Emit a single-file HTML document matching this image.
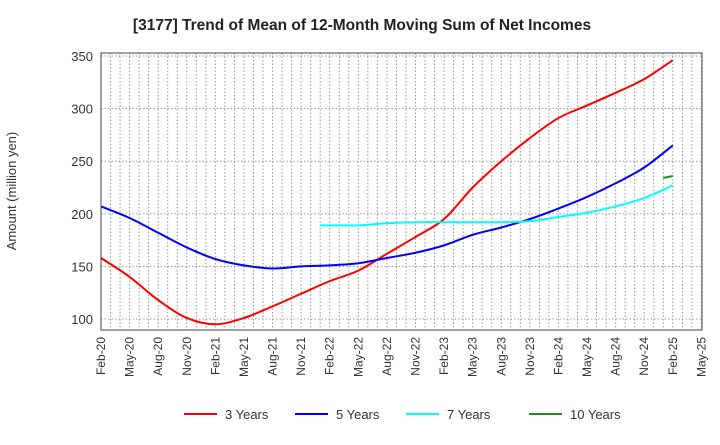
<!DOCTYPE html>
<html><head><meta charset="utf-8"><style>
body{margin:0;background:#fff;font-family:"Liberation Sans",Arial,sans-serif}
svg text{font-family:"Liberation Sans",Arial,sans-serif}
</style></head><body>
<svg id="c" width="720" height="440" viewBox="0 0 720 440">
<text x="362" y="30" text-anchor="middle" font-size="15.5" font-weight="bold" fill="#222">[3177]  Trend of Mean of 12-Month Moving Sum of Net Incomes</text>
<text transform="translate(16,191) rotate(-90)" text-anchor="middle" font-size="13" fill="#333">Amount (million yen)</text>
<g id="grid"></g><g id="series"></g><g id="axes"></g>
<g id="legend"></g>
</svg>
<script>
const xTickLabels=["Feb-20","May-20","Aug-20","Nov-20","Feb-21","May-21","Aug-21","Nov-21","Feb-22","May-22","Aug-22","Nov-22","Feb-23","May-23","Aug-23","Nov-23","Feb-24","May-24","Aug-24","Nov-24","Feb-25","May-25"];
const yTicks=[100,150,200,250,300,350];
const seriesNames=["3 Years","5 Years","7 Years","10 Years"];
const seriesColors=["#ff0000","#0000ff","#00ffff","#228b22"];
// values at quarterly months (month index from Feb-20)
const months3=[0,3,6,9,12,15,18,21,24,27,30,33,36,39,42,45,48,51,54,57,60];
const years3=[158,140,118,101,95,101,112,124,136,146,162,178,195,225,250,272,291,303,315,328,346];
const months5=[0,3,6,9,12,15,18,21,24,27,30,33,36,39,42,45,48,51,54,57,60];
const years5=[207,196,182,168,157,151,148,150,151,153,158,163,170,180,187,195,205,216,229,244,265];
const months7=[23,24,27,30,33,36,39,42,45,48,51,54,57,60];
const years7=[189,189,189,191,192,192,192,192,193,197,201,207,215,227];
const months10=[59,60];
const years10=[234,236];
const X0=101,X1=702,Y0=53,Y1=330,PX=9.53;
const xs=m=>X0+m*PX;
const ys=v=>319-(v-100)*263/250;
const NS="http://www.w3.org/2000/svg";
function mk(t,a,p){const e=document.createElementNS(NS,t);for(const k in a)e.setAttribute(k,a[k]);p.appendChild(e);return e;}
const grid=document.getElementById('grid'),axes=document.getElementById('axes'),ser=document.getElementById('series'),leg=document.getElementById('legend');
for(let m=0;xs(m)<X1;m++){const l=mk('line',{x1:xs(m),x2:xs(m),y1:Y0,y2:Y1,stroke:'#999','stroke-dasharray':'1.5,2','stroke-width':1},grid);

}
yTicks.forEach(v=>{const l=mk('line',{x1:X0,x2:X1,y1:ys(v),y2:ys(v),stroke:'#999','stroke-dasharray':'1.5,2'},grid);


const t=mk('text',{x:X0-8,y:ys(v)+5,'text-anchor':'end','font-size':13,fill:'#333'},axes);t.textContent=v;

});
xTickLabels.forEach((s,i)=>{const x=xs(i*3);const t=mk('text',{transform:`translate(${x+4},337) rotate(-90)`,'text-anchor':'end','font-size':12,fill:'#333'},axes);t.textContent=s;

});
const fr=mk('rect',{x:X0,y:Y0,width:X1-X0,height:Y1-Y0,fill:'none',stroke:'#444'},axes);


function path(ms,vs){const p=ms.map((m,i)=>[xs(m),ys(vs[i])]);let d=`M${p[0][0]},${p[0][1]}`;
for(let i=0;i<p.length-1;i++){const a=p[i-1]||p[i],b=p[i],c=p[i+1],e=p[i+2]||c;
d+=`C${b[0]+(c[0]-a[0])/6},${b[1]+(c[1]-a[1])/6} ${c[0]-(e[0]-b[0])/6},${c[1]-(e[1]-b[1])/6} ${c[0]},${c[1]}`;}return d;}
[[months3,years3],[months5,years5],[months7,years7],[months10,years10]].forEach((s,i)=>{
const p=mk('path',{d:path(s[0],s[1]),fill:'none',stroke:seriesColors[i],'stroke-width':2},ser);

});
const lx=[184,295,406,529];
seriesNames.forEach((n,i)=>{const g=mk('g',{},leg);


mk('line',{x1:lx[i],x2:lx[i]+33,y1:414,y2:414,stroke:seriesColors[i],'stroke-width':2},g);
const t=mk('text',{x:lx[i]+41,y:419,'font-size':13,fill:'#333'},g);t.textContent=n;});
</script>
</body></html>
